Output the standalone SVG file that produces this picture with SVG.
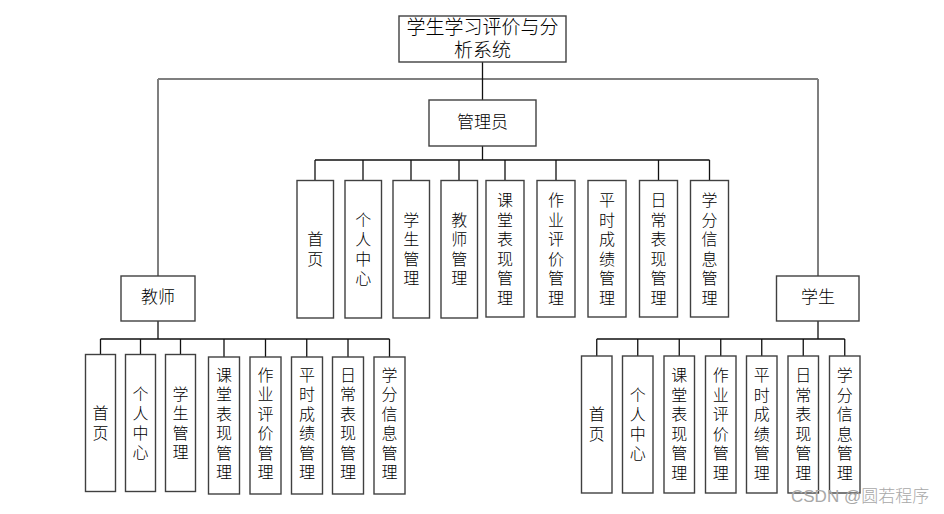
<svg xmlns="http://www.w3.org/2000/svg" width="944" height="514" viewBox="0 0 944 514">
<style>
.box{fill:#fff;stroke:#404040;stroke-width:1.4}
.t{font-family:"Liberation Sans","Noto Sans CJK SC",sans-serif;font-weight:300;fill:#000;text-anchor:middle;dominant-baseline:central}
.v{font-size:16px}
.c{stroke:#111;stroke-width:1.3;fill:none}
.g{stroke:#7f7f7f;stroke-width:2;fill:none}
.wm{font-family:"Liberation Sans","Noto Sans CJK SC",sans-serif;font-weight:300;font-size:17px;fill:#a8a8a8}
</style>
<rect width="944" height="514" fill="#fff"/>
<g id="connectors">
<path class="g" d="M158 79H818M158 79V276M818 79V276"/>
<path class="c" d="M482.5 62V100M482.5 146V160M315 160H709.5M315 160V180.5M363 160V180.5M411 160V180.5M459 160V180.5M505 160V180.5M556 160V180.5M658.5 160V180.5M709.5 160V180.5"/>
<path class="c" d="M158 321V339M100.5 339H389.5M100.5 339V354.5M140.5 339V354.5M180.5 339V354.5M224 339V357M265.5 339V357M306.75 339V357M348 339V357M389.5 339V357"/>
<path class="c" d="M818 321V339M596.75 339H844.75M596.75 339V356M637.75 339V356M679.25 339V356M720.75 339V356M761.75 339V356M803.25 339V356M844.75 339V356"/>
</g>
<g id="root"><rect class="box" x="399" y="16" width="167" height="46"/><text class="t" style="font-size:19px" x="482.5" y="27">学生学习评价与分</text><text class="t" style="font-size:19px" x="482.5" y="50">析系统</text></g>
<g id="admin"><rect class="box" x="429" y="100" width="107" height="46"/><text class="t" style="font-size:17px" x="482.5" y="122.5">管理员</text></g>
<g id="teacher"><rect class="box" x="121" y="276" width="74" height="45"/><text class="t" style="font-size:17px" x="158" y="297.5">教师</text></g>
<g id="student"><rect class="box" x="776.5" y="276" width="82.5" height="45"/><text class="t" style="font-size:17px" x="818" y="297.5">学生</text></g>

<g id="a1"><rect class="box" x="297" y="180.5" width="36.5" height="137.5"/><text class="t v" x="315.25" y="239.25"><tspan x="315.25">首</tspan><tspan x="315.25" dy="19.5">页</tspan></text></g>
<g id="a2"><rect class="box" x="345" y="180.5" width="36.5" height="137.5"/><text class="t v" x="363.25" y="219.75"><tspan x="363.25">个</tspan><tspan x="363.25" dy="19.5">人</tspan><tspan x="363.25" dy="19.5">中</tspan><tspan x="363.25" dy="19.5">心</tspan></text></g>
<g id="a3"><rect class="box" x="393" y="180.5" width="36.5" height="137.5"/><text class="t v" x="411.25" y="219.75"><tspan x="411.25">学</tspan><tspan x="411.25" dy="19.5">生</tspan><tspan x="411.25" dy="19.5">管</tspan><tspan x="411.25" dy="19.5">理</tspan></text></g>
<g id="a4"><rect class="box" x="441" y="180.5" width="36.5" height="137.5"/><text class="t v" x="459.25" y="219.75"><tspan x="459.25">教</tspan><tspan x="459.25" dy="19.5">师</tspan><tspan x="459.25" dy="19.5">管</tspan><tspan x="459.25" dy="19.5">理</tspan></text></g>
<g id="a5"><rect class="box" x="486" y="180.5" width="38" height="136.5"/><text class="t v" x="505" y="200"><tspan x="505">课</tspan><tspan x="505" dy="19.5">堂</tspan><tspan x="505" dy="19.5">表</tspan><tspan x="505" dy="19.5">现</tspan><tspan x="505" dy="19.5">管</tspan><tspan x="505" dy="19.5">理</tspan></text></g>
<g id="a6"><rect class="box" x="537" y="180.5" width="38" height="136.5"/><text class="t v" x="556" y="200"><tspan x="556">作</tspan><tspan x="556" dy="19.5">业</tspan><tspan x="556" dy="19.5">评</tspan><tspan x="556" dy="19.5">价</tspan><tspan x="556" dy="19.5">管</tspan><tspan x="556" dy="19.5">理</tspan></text></g>
<g id="a7"><rect class="box" x="588" y="180.5" width="38" height="136.5"/><text class="t v" x="607" y="200"><tspan x="607">平</tspan><tspan x="607" dy="19.5">时</tspan><tspan x="607" dy="19.5">成</tspan><tspan x="607" dy="19.5">绩</tspan><tspan x="607" dy="19.5">管</tspan><tspan x="607" dy="19.5">理</tspan></text></g>
<g id="a8"><rect class="box" x="639.5" y="180.5" width="38" height="136.5"/><text class="t v" x="658.5" y="200"><tspan x="658.5">日</tspan><tspan x="658.5" dy="19.5">常</tspan><tspan x="658.5" dy="19.5">表</tspan><tspan x="658.5" dy="19.5">现</tspan><tspan x="658.5" dy="19.5">管</tspan><tspan x="658.5" dy="19.5">理</tspan></text></g>
<g id="a9"><rect class="box" x="690.5" y="180.5" width="38" height="136.5"/><text class="t v" x="709.5" y="200"><tspan x="709.5">学</tspan><tspan x="709.5" dy="19.5">分</tspan><tspan x="709.5" dy="19.5">信</tspan><tspan x="709.5" dy="19.5">息</tspan><tspan x="709.5" dy="19.5">管</tspan><tspan x="709.5" dy="19.5">理</tspan></text></g>

<g id="t1"><rect class="box" x="85.5" y="354.5" width="30" height="137"/><text class="t v" x="100.5" y="413.25"><tspan x="100.5">首</tspan><tspan x="100.5" dy="19.5">页</tspan></text></g>
<g id="t2"><rect class="box" x="125.5" y="354.5" width="30" height="137"/><text class="t v" x="140.5" y="393.75"><tspan x="140.5">个</tspan><tspan x="140.5" dy="19.5">人</tspan><tspan x="140.5" dy="19.5">中</tspan><tspan x="140.5" dy="19.5">心</tspan></text></g>
<g id="t3"><rect class="box" x="165.5" y="354.5" width="30" height="137"/><text class="t v" x="180.5" y="393.75"><tspan x="180.5">学</tspan><tspan x="180.5" dy="19.5">生</tspan><tspan x="180.5" dy="19.5">管</tspan><tspan x="180.5" dy="19.5">理</tspan></text></g>
<g id="t4"><rect class="box" x="208.5" y="357" width="31" height="137"/><text class="t v" x="224" y="374.5"><tspan x="224">课</tspan><tspan x="224" dy="19.5">堂</tspan><tspan x="224" dy="19.5">表</tspan><tspan x="224" dy="19.5">现</tspan><tspan x="224" dy="19.5">管</tspan><tspan x="224" dy="19.5">理</tspan></text></g>
<g id="t5"><rect class="box" x="250" y="357" width="31" height="137"/><text class="t v" x="265.5" y="374.5"><tspan x="265.5">作</tspan><tspan x="265.5" dy="19.5">业</tspan><tspan x="265.5" dy="19.5">评</tspan><tspan x="265.5" dy="19.5">价</tspan><tspan x="265.5" dy="19.5">管</tspan><tspan x="265.5" dy="19.5">理</tspan></text></g>
<g id="t6"><rect class="box" x="291.5" y="357" width="31" height="137"/><text class="t v" x="307" y="374.5"><tspan x="307">平</tspan><tspan x="307" dy="19.5">时</tspan><tspan x="307" dy="19.5">成</tspan><tspan x="307" dy="19.5">绩</tspan><tspan x="307" dy="19.5">管</tspan><tspan x="307" dy="19.5">理</tspan></text></g>
<g id="t7"><rect class="box" x="332.5" y="357" width="31" height="137"/><text class="t v" x="348" y="374.5"><tspan x="348">日</tspan><tspan x="348" dy="19.5">常</tspan><tspan x="348" dy="19.5">表</tspan><tspan x="348" dy="19.5">现</tspan><tspan x="348" dy="19.5">管</tspan><tspan x="348" dy="19.5">理</tspan></text></g>
<g id="t8"><rect class="box" x="374" y="357" width="31" height="137"/><text class="t v" x="389.5" y="374.5"><tspan x="389.5">学</tspan><tspan x="389.5" dy="19.5">分</tspan><tspan x="389.5" dy="19.5">信</tspan><tspan x="389.5" dy="19.5">息</tspan><tspan x="389.5" dy="19.5">管</tspan><tspan x="389.5" dy="19.5">理</tspan></text></g>

<g id="s1"><rect class="box" x="581.5" y="356" width="30.5" height="137"/><text class="t v" x="596.75" y="414"><tspan x="596.75">首</tspan><tspan x="596.75" dy="19.5">页</tspan></text></g>
<g id="s2"><rect class="box" x="622.5" y="356" width="30.5" height="137"/><text class="t v" x="637.75" y="394.5"><tspan x="637.75">个</tspan><tspan x="637.75" dy="19.5">人</tspan><tspan x="637.75" dy="19.5">中</tspan><tspan x="637.75" dy="19.5">心</tspan></text></g>
<g id="s3"><rect class="box" x="664" y="356" width="30.5" height="137"/><text class="t v" x="679.25" y="375"><tspan x="679.25">课</tspan><tspan x="679.25" dy="19.5">堂</tspan><tspan x="679.25" dy="19.5">表</tspan><tspan x="679.25" dy="19.5">现</tspan><tspan x="679.25" dy="19.5">管</tspan><tspan x="679.25" dy="19.5">理</tspan></text></g>
<g id="s4"><rect class="box" x="705.5" y="356" width="30.5" height="137"/><text class="t v" x="720.75" y="375"><tspan x="720.75">作</tspan><tspan x="720.75" dy="19.5">业</tspan><tspan x="720.75" dy="19.5">评</tspan><tspan x="720.75" dy="19.5">价</tspan><tspan x="720.75" dy="19.5">管</tspan><tspan x="720.75" dy="19.5">理</tspan></text></g>
<g id="s5"><rect class="box" x="746.5" y="356" width="30.5" height="137"/><text class="t v" x="761.75" y="375"><tspan x="761.75">平</tspan><tspan x="761.75" dy="19.5">时</tspan><tspan x="761.75" dy="19.5">成</tspan><tspan x="761.75" dy="19.5">绩</tspan><tspan x="761.75" dy="19.5">管</tspan><tspan x="761.75" dy="19.5">理</tspan></text></g>
<g id="s6"><rect class="box" x="788" y="356" width="30.5" height="137"/><text class="t v" x="803.25" y="375"><tspan x="803.25">日</tspan><tspan x="803.25" dy="19.5">常</tspan><tspan x="803.25" dy="19.5">表</tspan><tspan x="803.25" dy="19.5">现</tspan><tspan x="803.25" dy="19.5">管</tspan><tspan x="803.25" dy="19.5">理</tspan></text></g>
<g id="s7"><rect class="box" x="829.5" y="356" width="30.5" height="137"/><text class="t v" x="844.75" y="375"><tspan x="844.75">学</tspan><tspan x="844.75" dy="19.5">分</tspan><tspan x="844.75" dy="19.5">信</tspan><tspan x="844.75" dy="19.5">息</tspan><tspan x="844.75" dy="19.5">管</tspan><tspan x="844.75" dy="19.5">理</tspan></text></g>

<text class="wm" x="791" y="502">CSDN @圆若程序</text>
</svg>
